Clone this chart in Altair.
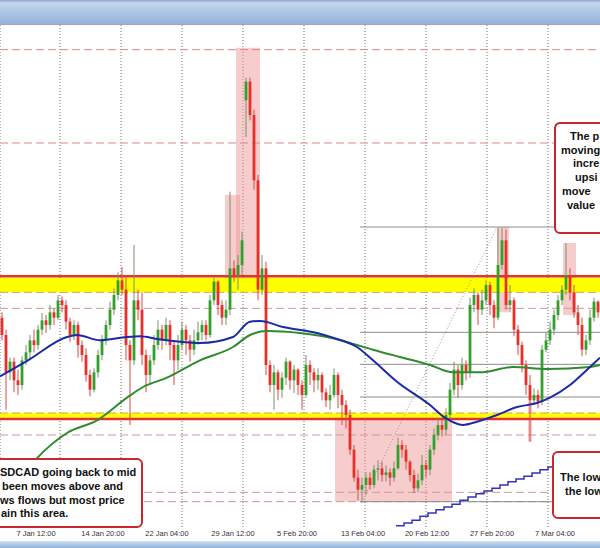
import altair as alt
import pandas as pd

# ---------------- USDCAD 4-hour candles ----------------
opens = [1.4436, 1.4410, 1.4354, 1.4370, 1.4342, 1.4335, 1.4372, 1.4384, 1.4402, 1.4395,
         1.4418, 1.4432, 1.4425, 1.4444, 1.4436, 1.4462, 1.4455, 1.4430, 1.4410, 1.4425,
         1.4395, 1.4380, 1.4350, 1.4328, 1.4354, 1.4380, 1.4402, 1.4425, 1.4448, 1.4470,
         1.4492, 1.4478, 1.4395, 1.4372, 1.4462, 1.4448, 1.4380, 1.4350, 1.4372, 1.4395,
         1.4418, 1.4402, 1.4425, 1.4395, 1.4372, 1.4395, 1.4418, 1.4402, 1.4388, 1.4402,
         1.4414, 1.4425, 1.4410, 1.4462, 1.4490, 1.4455, 1.4436, 1.4448, 1.4510, 1.4500,
         1.4515, 1.4762, 1.4790, 1.4740, 1.4642, 1.4478, 1.4510, 1.4365, 1.4335, 1.4354,
         1.4328, 1.4346, 1.4370, 1.4342, 1.4358, 1.4335, 1.4320, 1.4365, 1.4354, 1.4342,
         1.4350, 1.4324, 1.4312, 1.4320, 1.4350, 1.4320, 1.4305, 1.4290, 1.4238, 1.4196,
         1.4178, 1.4185, 1.4196, 1.4185, 1.4208, 1.4210, 1.4200, 1.4204, 1.4196, 1.4210,
         1.4245, 1.4238, 1.4220, 1.4200, 1.4180, 1.4192, 1.4215, 1.4208, 1.4238, 1.4260,
         1.4275, 1.4268, 1.4290, 1.4328, 1.4358, 1.4335, 1.4365, 1.4354, 1.4455, 1.4470,
         1.4448, 1.4462, 1.4485, 1.4455, 1.4436, 1.4515, 1.4552, 1.4455, 1.4462, 1.4418,
         1.4395, 1.4365, 1.4335, 1.4312, 1.4320, 1.4310, 1.4388, 1.4402, 1.4418, 1.4440,
         1.4462, 1.4478, 1.4500, 1.4474, 1.4444, 1.4425, 1.4388, 1.4402, 1.4436, 1.4460]
highs = [1.4444, 1.4418, 1.4376, 1.4376, 1.4358, 1.4378, 1.4395, 1.4410, 1.4418, 1.4425,
         1.4443, 1.4440, 1.4455, 1.4450, 1.4470, 1.4468, 1.4462, 1.4436, 1.4432, 1.4430,
         1.4402, 1.4390, 1.4358, 1.4360, 1.4388, 1.4410, 1.4432, 1.4460, 1.4480, 1.4504,
         1.4512, 1.4500, 1.4402, 1.4545, 1.4478, 1.4474, 1.4388, 1.4380, 1.4410, 1.4432,
         1.4425, 1.4436, 1.4432, 1.4402, 1.4410, 1.4430, 1.4425, 1.4410, 1.4418, 1.4430,
         1.4432, 1.4432, 1.4470, 1.4496, 1.4492, 1.4462, 1.4462, 1.4625, 1.4522, 1.4530,
         1.4565, 1.4796, 1.4796, 1.4748, 1.4650, 1.4530, 1.4520, 1.4372, 1.4365, 1.4358,
         1.4354, 1.4376, 1.4372, 1.4365, 1.4360, 1.4342, 1.4380, 1.4372, 1.4360, 1.4360,
         1.4354, 1.4330, 1.4335, 1.4360, 1.4354, 1.4328, 1.4312, 1.4298, 1.4245, 1.4208,
         1.4196, 1.4204, 1.4204, 1.4215, 1.4222, 1.4220, 1.4214, 1.4210, 1.4220, 1.4256,
         1.4252, 1.4245, 1.4222, 1.4208, 1.4202, 1.4230, 1.4222, 1.4245, 1.4270, 1.4286,
         1.4286, 1.4300, 1.4338, 1.4370, 1.4365, 1.4376, 1.4372, 1.4466, 1.4480, 1.4474,
         1.4478, 1.4492, 1.4490, 1.4462, 1.4570, 1.4570, 1.4568, 1.4485, 1.4466, 1.4425,
         1.4400, 1.4372, 1.4350, 1.4330, 1.4328, 1.4395, 1.4414, 1.4430, 1.4448, 1.4470,
         1.4485, 1.4548, 1.4510, 1.4485, 1.4455, 1.4436, 1.4410, 1.4448, 1.4466, 1.4462]
lows = [1.4402, 1.4298, 1.4342, 1.4324, 1.4320, 1.4328, 1.4365, 1.4372, 1.4384, 1.4388,
        1.4410, 1.4413, 1.4418, 1.4425, 1.4432, 1.4444, 1.4418, 1.4400, 1.4402, 1.4376,
        1.4370, 1.4340, 1.4318, 1.4324, 1.4346, 1.4372, 1.4395, 1.4418, 1.4440, 1.4462,
        1.4470, 1.4372, 1.4275, 1.4365, 1.4432, 1.4365, 1.4324, 1.4335, 1.4365, 1.4388,
        1.4388, 1.4395, 1.4372, 1.4335, 1.4358, 1.4388, 1.4380, 1.4370, 1.4380, 1.4395,
        1.4402, 1.4402, 1.4406, 1.4455, 1.4440, 1.4425, 1.4425, 1.4440, 1.4490, 1.4478,
        1.4500, 1.4707, 1.4732, 1.4628, 1.4462, 1.4470, 1.4350, 1.4324, 1.4298, 1.4312,
        1.4316, 1.4335, 1.4328, 1.4323, 1.4320, 1.4298, 1.4316, 1.4335, 1.4324, 1.4328,
        1.4312, 1.4302, 1.4298, 1.4316, 1.4300, 1.4275, 1.4270, 1.4230, 1.4190, 1.4162,
        1.4158, 1.4170, 1.4178, 1.4180, 1.4192, 1.4190, 1.4190, 1.4184, 1.4190, 1.4208,
        1.4226, 1.4208, 1.4190, 1.4173, 1.4174, 1.4185, 1.4196, 1.4200, 1.4230, 1.4252,
        1.4258, 1.4260, 1.4282, 1.4320, 1.4316, 1.4328, 1.4342, 1.4346, 1.4444, 1.4425,
        1.4440, 1.4455, 1.4440, 1.4420, 1.4432, 1.4508, 1.4448, 1.4444, 1.4408, 1.4380,
        1.4354, 1.4320, 1.4250, 1.4305, 1.4300, 1.4305, 1.4384, 1.4395, 1.4410, 1.4432,
        1.4455, 1.4470, 1.4462, 1.4436, 1.4410, 1.4378, 1.4380, 1.4395, 1.4430, 1.4436]
closes = [1.4410, 1.4354, 1.4370, 1.4342, 1.4335, 1.4372, 1.4384, 1.4402, 1.4395, 1.4418,
          1.4432, 1.4425, 1.4444, 1.4436, 1.4462, 1.4455, 1.4430, 1.4410, 1.4425, 1.4395,
          1.4380, 1.4350, 1.4328, 1.4354, 1.4380, 1.4402, 1.4425, 1.4448, 1.4470, 1.4492,
          1.4478, 1.4395, 1.4372, 1.4462, 1.4448, 1.4380, 1.4350, 1.4372, 1.4395, 1.4418,
          1.4402, 1.4425, 1.4395, 1.4372, 1.4395, 1.4418, 1.4402, 1.4388, 1.4402, 1.4414,
          1.4425, 1.4410, 1.4462, 1.4490, 1.4455, 1.4436, 1.4448, 1.4510, 1.4500, 1.4515,
          1.4552, 1.4790, 1.4740, 1.4642, 1.4478, 1.4510, 1.4365, 1.4335, 1.4354, 1.4328,
          1.4346, 1.4370, 1.4342, 1.4358, 1.4335, 1.4320, 1.4365, 1.4354, 1.4342, 1.4350,
          1.4324, 1.4312, 1.4320, 1.4350, 1.4320, 1.4305, 1.4290, 1.4238, 1.4196, 1.4178,
          1.4185, 1.4196, 1.4185, 1.4208, 1.4210, 1.4200, 1.4204, 1.4196, 1.4210, 1.4245,
          1.4238, 1.4220, 1.4200, 1.4180, 1.4192, 1.4215, 1.4208, 1.4238, 1.4260, 1.4275,
          1.4268, 1.4290, 1.4328, 1.4358, 1.4335, 1.4365, 1.4354, 1.4455, 1.4470, 1.4448,
          1.4462, 1.4485, 1.4455, 1.4436, 1.4515, 1.4552, 1.4455, 1.4462, 1.4418, 1.4395,
          1.4365, 1.4335, 1.4312, 1.4320, 1.4310, 1.4388, 1.4402, 1.4418, 1.4440, 1.4462,
          1.4478, 1.4500, 1.4474, 1.4444, 1.4425, 1.4388, 1.4402, 1.4436, 1.4460, 1.4444]

# ---------------- moving averages ----------------
ma100_bars = [0, 7, 16.75, 19.25, 25, 31.75, 35, 39.25, 45, 50, 58.25, 62.5, 65, 70.75,
              79.25, 83.25, 89.25, 93.25, 99.25, 107.5, 111.25, 115.75, 119.25, 124.25,
              129.25, 134.25, 137.5, 142.5, 147.5, 150]
ma100 = [1.4348, 1.4372, 1.4407, 1.4410, 1.4402, 1.4407, 1.4408, 1.4404, 1.4400, 1.4398,
         1.4407, 1.4430, 1.4431, 1.4422, 1.4413, 1.4406, 1.4392, 1.4372, 1.4340, 1.4305,
         1.4286, 1.4275, 1.4280, 1.4290, 1.4302, 1.4308, 1.4316, 1.4335, 1.4362, 1.4376]
ma200_bars = [3, 8.75, 16.75, 24.25, 31.75, 35.75, 41.75, 50, 58.25, 62.5, 66.75, 75,
              81.75, 87.5, 93.25, 100, 107.5, 113.25, 120, 128.25, 136.75, 147.5, 150]
ma200 = [1.4178, 1.4222, 1.4263, 1.4282, 1.4316, 1.4332, 1.4346, 1.4372, 1.4392, 1.4410,
         1.4416, 1.4413, 1.4407, 1.4398, 1.4388, 1.4377, 1.4365, 1.4354, 1.4354, 1.4362,
         1.4359, 1.4362, 1.4365]

# stepped trailing line (lower right)
step_bars = [99, 101, 103, 105, 107, 109, 111, 113, 115, 117, 119, 121, 123, 125, 127,
             129, 131, 133, 135, 137, 138.5]
step_vals = [1.4124, 1.4128, 1.4132, 1.4138, 1.4143, 1.4148, 1.4152, 1.4156, 1.4162,
             1.4167, 1.4172, 1.4176, 1.4180, 1.4185, 1.4190, 1.4194, 1.4198, 1.4203,
             1.4208, 1.4212, 1.4212]

# ---------------- levels ----------------
red_dashed_levels = [1.4838, 1.4698]
upper_zone_lo, upper_zone_hi = 1.4474, 1.4496
upper_zone_line = 1.4498
lower_zone_lo, lower_zone_hi = 1.4286, 1.4293
lower_zone_line = 1.4284
orange_dashed_levels = [1.4474, 1.4293]
pink_dashed_levels = [1.4450, 1.4260, 1.4174, 1.4160]

# Fibonacci retracement of the 13 Feb low -> 27 Feb high
fib_levels = [1.4572, 1.4414, 1.4366, 1.4317, 1.4160]
fib_from_bar, fib_to_bar = 90, 150
fib_trend_bars = [90.5, 124.25]
fib_trend_vals = [1.4160, 1.4572]

# shaded highlight boxes
box_bar0 = [56.25, 59, 83.75, 124.25, 132, 140.75]
box_bar1 = [60, 65, 113, 127.25, 133, 144]
box_lo = [1.4474, 1.4474, 1.4160, 1.4444, 1.4250, 1.4440]
box_hi = [1.4620, 1.4841, 1.4290, 1.4572, 1.4310, 1.4548]

# time axis
grid_bars = [0, 15, 30.25, 45.5, 60.75, 76, 91.25, 106.5, 121.75, 137]
tick_bars = [9, 25.75, 41.75, 58.25, 74.25, 90.75, 106.75, 123, 138.75]
tick_labels = ["7 Jan 12:00", "14 Jan 20:00", "22 Jan 04:00", "29 Jan 12:00",
               "5 Feb 20:00", "13 Feb 04:00", "20 Feb 12:00", "27 Feb 20:00", "7 Mar 04:00"]

# annotation texts
note_left = ["SDCAD going back to mid", "been moves above and",
             "ws flows but most price", "ain this area."]
note_top_right = ["The p", "moving", "incre", "upsi", "move", "value"]
note_low_right = ["The low", "the low"]

# ---------------- layout ----------------
W, H = 600, 548
PLOT_TOP, PLOT_BOTTOM = 25, 528
note_left_x = [0, 2, 0, 1]
note_left_y = [473, 487, 501, 514]
note_top_right_x = [570, 561, 573, 575, 562, 567]
note_top_right_y = [137, 151, 164, 178, 192, 206]
note_low_right_x = [560, 565]
note_low_right_y = [478, 492]

GREEN, RED = "#33a02c", "#e8302a"
FONT = "Liberation Sans"

X = alt.Scale(domain=[0, 150], nice=False, zero=False)
Y = alt.Scale(domain=[1.40905, 1.49125], nice=False, zero=False)

candles = pd.DataFrame({"bar": range(len(closes)), "open": opens, "high": highs,
                        "low": lows, "close": closes})
candles["xc"] = candles["bar"] + 0.5
candles["x0"] = candles["bar"] + 0.15
candles["x1"] = candles["bar"] + 0.85
one = pd.DataFrame({"k": [0]})

up_test = "datum.close > datum.open"

grid = alt.Chart(pd.DataFrame({"bar": grid_bars})).mark_rule(
    color="#6f6f6f", strokeDash=[1, 2], strokeWidth=1
).encode(x=alt.X("bar:Q", scale=X, axis=None), y=alt.value(PLOT_TOP), y2=alt.value(PLOT_BOTTOM))

shade = alt.Chart(pd.DataFrame({"b0": box_bar0, "b1": box_bar1, "lo": box_lo, "hi": box_hi})).mark_rect(
    color="#f09a9a", opacity=0.5
).encode(x=alt.X("b0:Q", scale=X, axis=None), x2="b1:Q",
         y=alt.Y("lo:Q", scale=Y, axis=None), y2="hi:Q")

zones = alt.Chart(pd.DataFrame({"lo": [upper_zone_lo, lower_zone_lo],
                                "hi": [upper_zone_hi, lower_zone_hi]})).mark_rect(
    color="#ffff00"
).encode(x=alt.value(0), x2=alt.value(W), y=alt.Y("lo:Q", scale=Y, axis=None), y2="hi:Q")


def hlines(levels, **style):
    return alt.Chart(pd.DataFrame({"p": levels})).mark_rule(**style).encode(
        x=alt.value(0), x2=alt.value(W), y=alt.Y("p:Q", scale=Y, axis=None))


red_dashed = hlines(red_dashed_levels, color="#d98a86", strokeDash=[8, 4], strokeWidth=1)
pink_dashed = hlines(pink_dashed_levels, color="#cf9a98", strokeDash=[8, 4], strokeWidth=1)
orange_dashed = hlines(orange_dashed_levels, color="#e3a04a", strokeDash=[8, 4], strokeWidth=1)
zone_lines = hlines([upper_zone_line, lower_zone_line], color="#e5322b", strokeWidth=2.5)

fib = alt.Chart(pd.DataFrame({"p": fib_levels, "b0": fib_from_bar, "b1": fib_to_bar})).mark_rule(
    color="#8c8c8c", strokeWidth=1
).encode(x=alt.X("b0:Q", scale=X, axis=None), x2="b1:Q", y=alt.Y("p:Q", scale=Y, axis=None))

fib_trend = alt.Chart(pd.DataFrame({"bar": fib_trend_bars, "p": fib_trend_vals})).mark_line(
    color="#9a9a9a", strokeDash=[1, 2], strokeWidth=1
).encode(x=alt.X("bar:Q", scale=X, axis=None), y=alt.Y("p:Q", scale=Y, axis=None))

wicks = alt.Chart(candles).mark_rule(strokeWidth=1).encode(
    x=alt.X("xc:Q", scale=X, axis=None),
    y=alt.Y("low:Q", scale=Y, axis=None), y2="high:Q",
    color=alt.condition(up_test, alt.value("#7d8f6c"), alt.value("#d94a44")),
)
bodies = alt.Chart(candles).mark_bar().encode(
    x=alt.X("x0:Q", scale=X, axis=None), x2="x1:Q",
    y=alt.Y("open:Q", scale=Y, axis=None), y2="close:Q",
    color=alt.condition(up_test, alt.value(GREEN), alt.value(RED)),
)

ma_green = alt.Chart(pd.DataFrame({"bar": ma200_bars, "p": ma200})).mark_line(
    color="#2e8b2e", strokeWidth=2, interpolate="monotone"
).encode(x=alt.X("bar:Q", scale=X, axis=None), y=alt.Y("p:Q", scale=Y, axis=None))
ma_blue = alt.Chart(pd.DataFrame({"bar": ma100_bars, "p": ma100})).mark_line(
    color="#1c2aa6", strokeWidth=2, interpolate="monotone"
).encode(x=alt.X("bar:Q", scale=X, axis=None), y=alt.Y("p:Q", scale=Y, axis=None))
steps = alt.Chart(pd.DataFrame({"bar": step_bars, "p": step_vals})).mark_line(
    color="#3434b8", strokeWidth=1.5, interpolate="step-after"
).encode(x=alt.X("bar:Q", scale=X, axis=None), y=alt.Y("p:Q", scale=Y, axis=None))

ticks = alt.Chart(pd.DataFrame({"bar": tick_bars, "t": tick_labels})).mark_text(
    font=FONT, fontSize=7.5, color="#333333", baseline="middle", align="center"
).encode(x=alt.X("bar:Q", scale=X, axis=None), y=alt.value(534), text="t:N")

top_bar = alt.Chart(one).mark_rect(
    color=alt.Gradient(gradient="linear", x1=0, x2=0, y1=0, y2=1,
                       stops=[alt.GradientStop(color="#8da8cb", offset=0),
                              alt.GradientStop(color="#c4d6ec", offset=0.12),
                              alt.GradientStop(color="#a9c2e2", offset=0.6),
                              alt.GradientStop(color="#95b2d7", offset=1)])
).encode(x=alt.value(0), x2=alt.value(W), y=alt.value(0), y2=alt.value(24))
top_edge = alt.Chart(one).mark_rule(color="#9aa9bb", strokeWidth=1).encode(
    x=alt.value(0), x2=alt.value(W), y=alt.value(24.5))

bottom_bar = alt.Chart(one).mark_rect(
    color=alt.Gradient(gradient="linear", x1=0, x2=0, y1=0, y2=1,
                       stops=[alt.GradientStop(color="#d2e1f1", offset=0),
                              alt.GradientStop(color="#8fb1d8", offset=1)])
).encode(x=alt.value(0), x2=alt.value(W), y=alt.value(541), y2=alt.value(H))


def note_box(x0, x1, y0, y1):
    return alt.Chart(one).mark_rect(
        fill="white", stroke="#c8282e", strokeWidth=2, cornerRadius=5
    ).encode(x=alt.value(x0), x2=alt.value(x1), y=alt.value(y0), y2=alt.value(y1))


PX = alt.Scale(domain=[0, W], range=[0, W], nice=False, zero=False)
PY = alt.Scale(domain=[0, H], range=[0, H], nice=False, zero=False)


def note_text(lines, xs, ys):
    df = pd.DataFrame({"t": lines, "px": xs, "py": ys})
    return alt.Chart(df).mark_text(
        font=FONT, fontSize=11, fontWeight="bold", color="#111111",
        align="left", baseline="middle"
    ).encode(x=alt.X("px:Q", scale=PX, axis=None),
             y=alt.Y("py:Q", scale=PY, axis=None),
             text="t:N")


box_left = note_box(-6, 142, 459, 527)
box_top_right = note_box(555, 612, 123, 233)
box_low_right = note_box(553, 612, 452, 518)
txt_left = note_text(note_left, note_left_x, note_left_y)
txt_top_right = note_text(note_top_right, note_top_right_x, note_top_right_y)
txt_low_right = note_text(note_low_right, note_low_right_x, note_low_right_y)

main = alt.layer(
    grid, shade, zones, red_dashed, pink_dashed, orange_dashed, zone_lines,
    fib, fib_trend, wicks, bodies, ma_green, ma_blue, steps, ticks,
)
overlay = alt.layer(
    top_bar, top_edge, bottom_bar,
    box_left, box_top_right, box_low_right, txt_left, txt_top_right, txt_low_right,
)

chart = alt.layer(main, overlay).resolve_scale(x="independent", y="independent").properties(
    width=W, height=H, padding=0, autosize=alt.AutoSizeParams(type="none"), background="white"
).configure_view(stroke=None)

chart.save("out.html", embed_options={"renderer": "svg", "actions": False})
